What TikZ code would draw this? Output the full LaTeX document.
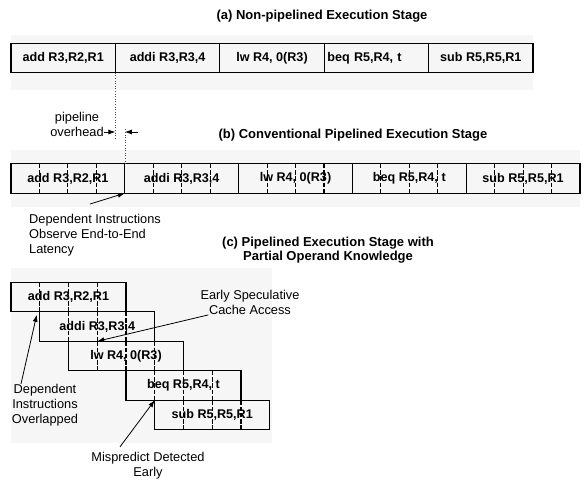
\documentclass[tikz,border=0pt]{standalone}
\usepackage{fontspec}
\setmainfont{Liberation Sans}
\usetikzlibrary{positioning,arrows.meta}

\begin{document}
\begin{tikzpicture}[x=1pt, y=-1pt, >={Latex[length=7pt,width=5pt]},
    cell/.style={draw, line width=1.1pt, outer sep=0pt, inner sep=0pt, minimum height=29.5pt, font=\bfseries\fontsize{12.6}{14}\selectfont},
    cut/.style={line width=1.1pt, dash pattern=on 4.5pt off 1.8pt},
    piped/.style={cell, minimum width=#1, path picture={
        \draw[cut] ([xshift=-#1/4]path picture bounding box.north) -- ([xshift=-#1/4]path picture bounding box.south);
        \draw[cut] (path picture bounding box.north) -- (path picture bounding box.south);
        \draw[cut] ([xshift=#1/4]path picture bounding box.north) -- ([xshift=#1/4]path picture bounding box.south);}},
    title/.style={font=\bfseries\fontsize{13}{14}\selectfont, align=center},
    note/.style={font=\fontsize{12.8}{15}\selectfont, inner sep=0pt},
    dotline/.style={dotted, line width=0.6pt, black!70},
    band/.style={fill=black!3.5, draw=none},
    pointer/.style={->, line width=0.8pt}]
    \useasboundingbox (0,0) rectangle (584,483);

    \fill[band] (11,35) rectangle (533,90);
    \fill[band] (11,150) rectangle (580,207);
    \fill[band] (11,268) rectangle (272,443);

    \node[title] (ta) at (322,16) {(a) Non-pipelined Execution Stage};
    \node[cell, minimum width=104.4pt] (a1) at (63.2,58) {add R3,R2,R1};
    \node[cell, minimum width=104.4pt, right=0pt of a1] (a2) {addi R3,R3,4};
    \node[cell, minimum width=104.4pt, right=0pt of a2] (a3) {lw R4, 0(R3)};
    \node[cell, minimum width=104.4pt, right=0pt of a3, text width=98pt, align=left] (a4) {beq R5,R4, t};
    \node[cell, minimum width=104.4pt, right=0pt of a4] (a5) {sub R5,R5,R1};

    \node[note, align=center] (ovh) at (77,124.5) {pipeline\\overhead};
    \node[title] (tb) at (353,135) {(b) Conventional Pipelined Execution Stage};

    \node[piped=113.8pt] (b1) at (67.9,178.5) {add R3,R2,R1};
    \node[piped=113.8pt, right=0pt of b1] (b2) {addi R3,R3,4};
    \node[piped=113.8pt, right=0pt of b2] (b3) {lw R4, 0(R3)};
    \node[piped=113.8pt, right=0pt of b3] (b4) {beq R5,R4, t};
    \node[piped=113.8pt, right=0pt of b4] (b5) {sub R5,R5,R1};

    \coordinate (dotA) at (a1.south east |- 0,140);
    \coordinate (dotB) at (b1.north east |- 0,128);
    \draw[dotline] (a1.south east) -- (dotA);
    \draw[dotline] (b1.north east) -- (dotB);
    \coordinate (ovA) at (a1.south east |- 0,132);
    \coordinate (ovB) at (b1.north east |- 0,132);
    \coordinate (ovC) at (138,132);
    \draw[pointer] (ovh.east |- ovA) -- (ovA);
    \draw[pointer] (ovC) -- (ovB);

    \node[note, align=left, anchor=north west] (dep) at (29,214) {Dependent Instructions\\Observe End-to-End\\Latency};
    \draw[pointer] ([xshift=61pt,yshift=10pt]dep.north west) -- (b1.south east);

    \node[title] (tc) at (328,250) {(c) Pipelined Execution Stage with\\Partial Operand Knowledge};

    \node[piped=115pt] (c1) at (68.5,297) {add R3,R2,R1};
    \node[piped=115pt, anchor=north west] (c2) at ([xshift=28.75pt]c1.south west) {addi R3,R3,4};
    \node[piped=115pt, anchor=north west] (c3) at ([xshift=28.75pt]c2.south west) {lw R4, 0(R3)};
    \node[piped=115pt, anchor=north west] (c4) at ([xshift=57.5pt]c3.south west) {beq R5,R4, t};
    \node[piped=115pt, anchor=north west] (c5) at ([xshift=28.75pt]c4.south west) {sub R5,R5,R1};

    \node[note, align=center] (esc) at (250,302.5) {Early Speculative\\Cache Access};
    \draw[pointer] ([xshift=8pt]esc.south west) -- ([xshift=28.75pt]c3.north west);

    \node[note, align=center] (ovl) at (45,405) {Dependent\\Instructions\\Overlapped};
    \draw[pointer] ([xshift=-24pt]ovl.north) -- ([xshift=-3pt,yshift=-3pt]c2.north west);

    \node[note, align=center] (mis) at (148,465.5) {Mispredict Detected\\Early};
    \draw[pointer] ([xshift=-28pt,yshift=5pt]mis.north) -- (c5.north west);
\end{tikzpicture}
\end{document}
